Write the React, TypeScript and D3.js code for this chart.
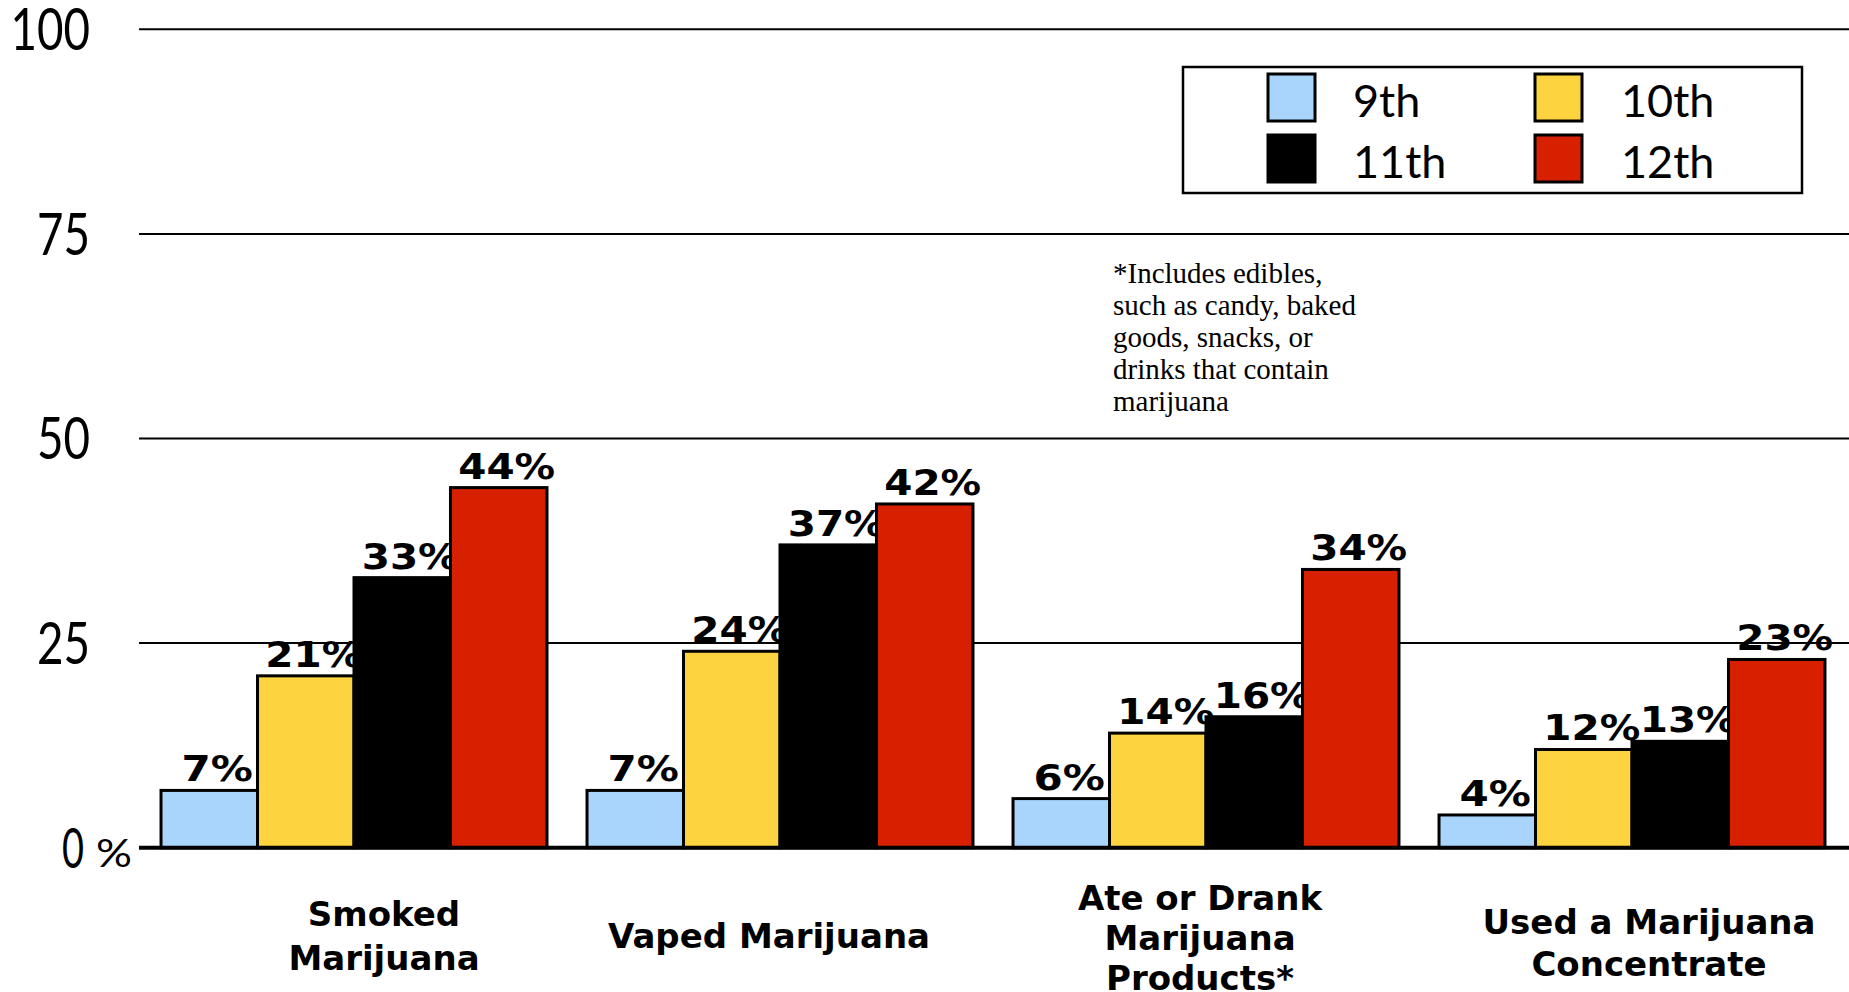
import React from "react";
import * as d3 from "d3";

const categories: string[][] = [
  ["Smoked", "Marijuana"],
  ["Vaped Marijuana"],
  ["Ate or Drank", "Marijuana", "Products*"],
  ["Used a Marijuana", "Concentrate"],
];
const seriesNames = ["9th", "10th", "11th", "12th"];
const grade9 = [7, 7, 6, 4];
const grade10 = [21, 24, 14, 12];
const grade11 = [33, 37, 16, 13];
const grade12 = [44, 42, 34, 23];
const seriesValues = [grade9, grade10, grade11, grade12];
const seriesColors = ["#a9d5fd", "#fdd43f", "#000000", "#d72000"];
const yTicks = [0, 25, 50, 75, 100];
const noteLines = [
  "*Includes edibles,",
  "such as candy, baked",
  "goods, snacks, or",
  "drinks that contain",
  "marijuana",
];

const W = 1849;
const H = 992;

export default function App() {
  const catIds = categories.map((_, i) => String(i));
  const x0 = d3
    .scaleBand<string>()
    .domain(catIds)
    .range([141, 1845])
    .paddingInner(0.094)
    .paddingOuter(0.047);
  const x1 = d3
    .scaleBand<string>()
    .domain(seriesNames)
    .range([0, x0.bandwidth()]);
  const y = d3.scaleLinear().domain([0, 100]).range([847.7, 29.3]);

  const gridX1 = 139;
  const gridX2 = W;

  const labelFont = "'DejaVu Sans', Verdana, sans-serif";
  const axisFont = "Lato, 'Open Sans', sans-serif";

  // layout nudges for the category labels (text boxes in the source are not centred on groups)
  const catNudgeX = [30, -11, -6, 17];
  const catNudgeY = [0, 0, 2, 7];
  const catLineH = [44, 42, 40, 42];

  const valLabelSize = 36;
  const valLabelLen = (s: string) =>
    (s.replace("%", "").length * 0.711 + 1.272) * valLabelSize;

  return (
    <svg
      width={W}
      height={H}
      viewBox={`0 0 ${W} ${H}`}
      style={{ position: "absolute", left: 0, top: 0, display: "block", background: "#fff" }}
    >
      <rect x={0} y={0} width={W} height={H} fill="#fff" />
      {yTicks
        .filter((t) => t !== 0)
        .map((t) => (
          <line key={"g" + t} x1={gridX1} x2={gridX2} y1={y(t)} y2={y(t)} stroke="#000" strokeWidth={2} />
        ))}
      {yTicks.map((t) => {
        const s = String(t);
        if (t === 0) {
          return (
            <g key={"yl" + t}>
              <text
                x={84}
                y={y(t)}
                dy="0.36em"
                textAnchor="end"
                fontFamily={axisFont}
                fontSize={57}
                textLength={22}
                lengthAdjust="spacingAndGlyphs"
              >
                {s}
              </text>
              <text x={96} y={y(t)} dy="0.5em" fontFamily={axisFont} fontSize={38} textLength={36} lengthAdjust="spacingAndGlyphs">
                %
              </text>
            </g>
          );
        }
        return (
          <text
            key={"yl" + t}
            x={90}
            y={y(t)}
            dy="0.36em"
            textAnchor="end"
            fontFamily={axisFont}
            fontSize={58}
            textLength={s.length * 26.5}
            lengthAdjust="spacingAndGlyphs"
          >
            {s}
          </text>
        );
      })}
      {categories.map((_, ci) => (
        <g key={"c" + ci} transform={`translate(${x0(String(ci))},0)`}>
          {seriesNames.map((sn, si) => {
            const v = seriesValues[si][ci];
            const bx = x1(sn) as number;
            const lbl = v + "%";
            return (
              <g key={sn}>
                <rect
                  x={bx}
                  y={y(v)}
                  width={x1.bandwidth()}
                  height={y(0) - y(v)}
                  fill={seriesColors[si]}
                  stroke="#000"
                  strokeWidth={3}
                />
                <text
                  x={bx + x1.bandwidth() / 2 + 8}
                  y={y(v) - 9}
                  textAnchor="middle"
                  fontFamily={labelFont}
                  fontWeight="bold"
                  fontSize={valLabelSize}
                  textLength={valLabelLen(lbl)}
                  lengthAdjust="spacingAndGlyphs"
                  fill="#000"
                >
                  {lbl}
                </text>
              </g>
            );
          })}
        </g>
      ))}
      <line x1={gridX1} x2={gridX2} y1={y(0)} y2={y(0)} stroke="#000" strokeWidth={4} />
      {categories.map((lines, ci) => {
        const cx = (x0(String(ci)) as number) + x0.bandwidth() / 2 + catNudgeX[ci];
        const lh = catLineH[ci];
        const center = 936 + catNudgeY[ci];
        return (
          <text
            key={"cl" + ci}
            textAnchor="middle"
            fontFamily={labelFont}
            fontWeight="bold"
            fontSize={34}
            fill="#000"
          >
            {lines.map((ln, li) => (
              <tspan key={li} x={cx} y={center - ((lines.length - 1) * lh) / 2 + li * lh + 12.4}>
                {ln}
              </tspan>
            ))}
          </text>
        );
      })}
      <text fontFamily="'Liberation Serif', 'Times New Roman', serif" fontSize={29} fill="#000">
        {noteLines.map((ln, i) => (
          <tspan key={i} x={1113} y={283 + i * 32}>
            {ln}
          </tspan>
        ))}
      </text>
      <g>
        <rect x={1183} y={67} width={619} height={126} fill="#fff" stroke="#000" strokeWidth={2.5} />
        {seriesNames.map((sn, i) => {
          const col = i % 2;
          const row = Math.floor(i / 2);
          return (
            <g key={"lg" + sn}>
              <rect
                x={1268 + col * 267}
                y={74 + row * 61}
                width={47}
                height={47}
                fill={seriesColors[i]}
                stroke="#000"
                strokeWidth={3}
              />
              <text x={1353 + col * 268} y={117 + row * 61} fontFamily={axisFont} fontSize={45} fill="#000">
                {sn}
              </text>
            </g>
          );
        })}
      </g>
    </svg>
  );
}
